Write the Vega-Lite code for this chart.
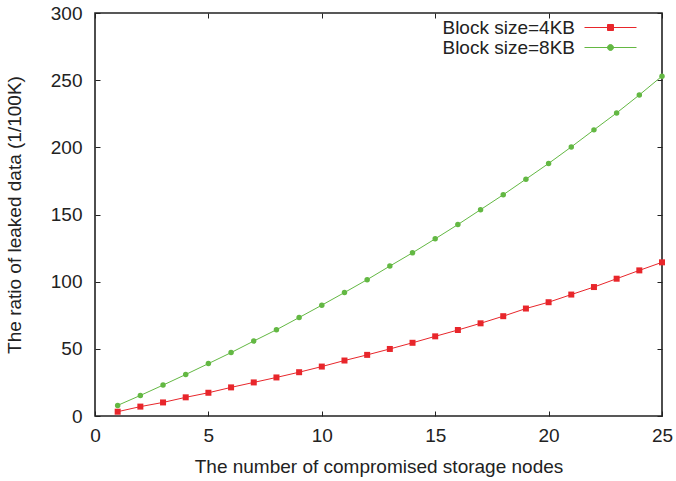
{
  "$schema": "https://vega.github.io/schema/vega-lite/v6.json",
  "width": 567,
  "height": 403,
  "autosize": {"type": "none"},
  "padding": {"left": 95, "top": 13, "right": 14, "bottom": 65},
  "background": "white",
  "data": {
    "values": [
      {"nodes": 1, "series": "Block size=4KB", "ratio": 3.2},
      {"nodes": 2, "series": "Block size=4KB", "ratio": 7.0},
      {"nodes": 3, "series": "Block size=4KB", "ratio": 10.1},
      {"nodes": 4, "series": "Block size=4KB", "ratio": 13.9},
      {"nodes": 5, "series": "Block size=4KB", "ratio": 17.3},
      {"nodes": 6, "series": "Block size=4KB", "ratio": 21.3},
      {"nodes": 7, "series": "Block size=4KB", "ratio": 25.0},
      {"nodes": 8, "series": "Block size=4KB", "ratio": 28.7},
      {"nodes": 9, "series": "Block size=4KB", "ratio": 32.6},
      {"nodes": 10, "series": "Block size=4KB", "ratio": 36.8},
      {"nodes": 11, "series": "Block size=4KB", "ratio": 41.3},
      {"nodes": 12, "series": "Block size=4KB", "ratio": 45.5},
      {"nodes": 13, "series": "Block size=4KB", "ratio": 49.9},
      {"nodes": 14, "series": "Block size=4KB", "ratio": 54.5},
      {"nodes": 15, "series": "Block size=4KB", "ratio": 59.3},
      {"nodes": 16, "series": "Block size=4KB", "ratio": 64.0},
      {"nodes": 17, "series": "Block size=4KB", "ratio": 69.0},
      {"nodes": 18, "series": "Block size=4KB", "ratio": 74.3},
      {"nodes": 19, "series": "Block size=4KB", "ratio": 80.0},
      {"nodes": 20, "series": "Block size=4KB", "ratio": 84.7},
      {"nodes": 21, "series": "Block size=4KB", "ratio": 90.4},
      {"nodes": 22, "series": "Block size=4KB", "ratio": 96.0},
      {"nodes": 23, "series": "Block size=4KB", "ratio": 102.2},
      {"nodes": 24, "series": "Block size=4KB", "ratio": 108.4},
      {"nodes": 25, "series": "Block size=4KB", "ratio": 114.4},
      {"nodes": 1, "series": "Block size=8KB", "ratio": 7.9},
      {"nodes": 2, "series": "Block size=8KB", "ratio": 15.3},
      {"nodes": 3, "series": "Block size=8KB", "ratio": 23.0},
      {"nodes": 4, "series": "Block size=8KB", "ratio": 30.9},
      {"nodes": 5, "series": "Block size=8KB", "ratio": 39.0},
      {"nodes": 6, "series": "Block size=8KB", "ratio": 47.2},
      {"nodes": 7, "series": "Block size=8KB", "ratio": 55.8},
      {"nodes": 8, "series": "Block size=8KB", "ratio": 64.2},
      {"nodes": 9, "series": "Block size=8KB", "ratio": 73.3},
      {"nodes": 10, "series": "Block size=8KB", "ratio": 82.5},
      {"nodes": 11, "series": "Block size=8KB", "ratio": 91.9},
      {"nodes": 12, "series": "Block size=8KB", "ratio": 101.5},
      {"nodes": 13, "series": "Block size=8KB", "ratio": 111.6},
      {"nodes": 14, "series": "Block size=8KB", "ratio": 121.5},
      {"nodes": 15, "series": "Block size=8KB", "ratio": 131.9},
      {"nodes": 16, "series": "Block size=8KB", "ratio": 142.5},
      {"nodes": 17, "series": "Block size=8KB", "ratio": 153.6},
      {"nodes": 18, "series": "Block size=8KB", "ratio": 164.7},
      {"nodes": 19, "series": "Block size=8KB", "ratio": 176.3},
      {"nodes": 20, "series": "Block size=8KB", "ratio": 188.0},
      {"nodes": 21, "series": "Block size=8KB", "ratio": 200.3},
      {"nodes": 22, "series": "Block size=8KB", "ratio": 213.0},
      {"nodes": 23, "series": "Block size=8KB", "ratio": 225.6},
      {"nodes": 24, "series": "Block size=8KB", "ratio": 239.0},
      {"nodes": 25, "series": "Block size=8KB", "ratio": 253.0}
    ]
  },
  "layer": [
    {
      "mark": {"type": "line", "strokeWidth": 1},
      "encoding": {
        "x": {
          "field": "nodes", "type": "quantitative",
          "scale": {"domain": [0, 25], "nice": false},
          "axis": {
            "orient": "bottom", "values": [0, 5, 10, 15, 20, 25],
            "title": "The number of compromised storage nodes",
            "tickSize": -5, "labelPadding": 15, "titlePadding": 12, "labelFlush": false
          }
        },
        "y": {
          "field": "ratio", "type": "quantitative",
          "scale": {"domain": [0, 300], "nice": false},
          "axis": {
            "orient": "left", "values": [0, 50, 100, 150, 200, 250, 300],
            "title": "The ratio of leaked data (1/100K)",
            "tickSize": -5, "labelPadding": 18, "titlePadding": 26, "labelFlush": false
          }
        },
        "color": {
          "field": "series", "type": "nominal",
          "scale": {"domain": ["Block size=4KB", "Block size=8KB"], "range": ["#e8262b", "#63b843"]},
          "legend": {
            "title": null,
            "orient": "none",
            "legendX": 506,
            "legendY": 5,
            "padding": 0,
            "rowPadding": 0,
            "labelAlign": "right",
            "labelOffset": -45,
            "labelFontSize": 19,
            "labelFont": "Liberation Sans",
            "labelColor": "#222",
            "symbolSize": 100,
            "symbolStrokeWidth": 1,
            "symbolOpacity": 1,
            "symbolType": {"expr": "datum.value === 'Block size=4KB' ? 'M-5.2,0H5.2M-0.6,-0.6H0.6V0.6H-0.6Z' : 'M-5.2,0H5.2M-0.6,0A0.6,0.6,0,1,0,0.6,0A0.6,0.6,0,1,0,-0.6,0Z'"}
          }
        }
      }
    },
    {
      "transform": [{"filter": "datum.series === 'Block size=4KB'"}],
      "mark": {"type": "point", "shape": "square", "filled": true, "opacity": 1, "size": 36},
      "encoding": {
        "x": {"field": "nodes", "type": "quantitative", "axis": null},
        "y": {"field": "ratio", "type": "quantitative", "axis": null},
        "color": {"field": "series", "type": "nominal"}
      }
    },
    {
      "transform": [{"filter": "datum.series === 'Block size=8KB'"}],
      "mark": {"type": "point", "shape": "circle", "filled": true, "opacity": 1, "size": 30},
      "encoding": {
        "x": {"field": "nodes", "type": "quantitative", "axis": null},
        "y": {"field": "ratio", "type": "quantitative", "axis": null},
        "color": {"field": "series", "type": "nominal"}
      }
    },
    {
      "mark": {"type": "point", "opacity": 0},
      "encoding": {
        "x": {
          "field": "nodes", "type": "quantitative",
          "axis": {"orient": "top", "values": [0, 5, 10, 15, 20, 25], "labels": false, "title": null, "domain": false, "tickSize": -5}
        },
        "y": {
          "field": "ratio", "type": "quantitative",
          "axis": {"orient": "right", "values": [0, 50, 100, 150, 200, 250, 300], "labels": false, "title": null, "domain": false, "tickSize": -5}
        }
      }
    }
  ],
  "resolve": {"axis": {"x": "independent", "y": "independent"}},
  "config": {
    "view": {"stroke": "#222", "strokeWidth": 1.6},
    "font": "Liberation Sans",
    "axis": {
      "grid": false,
      "domain": false,
      "tickColor": "#222",
      "tickWidth": 1,
      "labelFont": "Liberation Sans",
      "labelFontSize": 19,
      "labelColor": "#222",
      "titleFont": "Liberation Sans",
      "titleFontSize": 19,
      "titleFontWeight": "normal",
      "titleColor": "#222"
    }
  }
}
